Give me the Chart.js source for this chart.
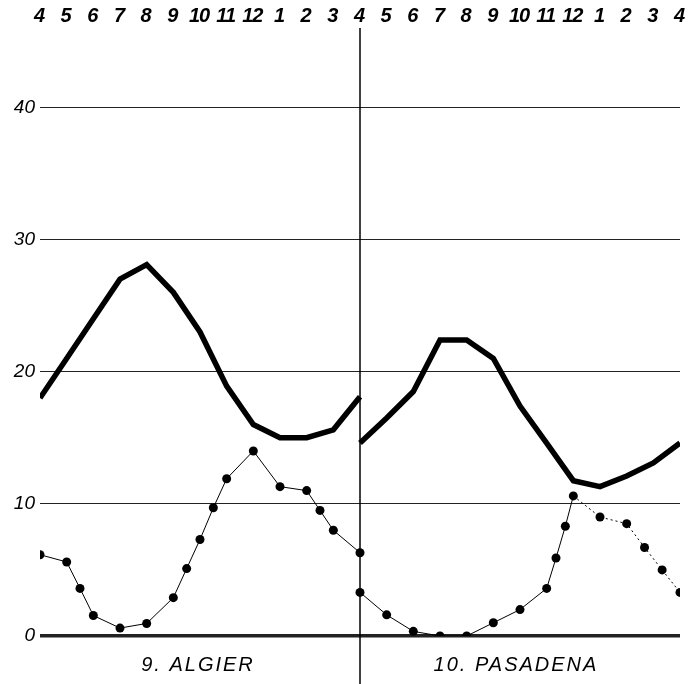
<!DOCTYPE html>
<html>
<head>
<meta charset="utf-8">
<script src="https://cdn.jsdelivr.net/npm/chart.js@4"></script>
<style>
  html, body { margin: 0; padding: 0; background: #fff; }
  #wrap { width: 691px; height: 684px; }
</style>
</head>
<body>
<div id="wrap"><canvas id="chart" width="691" height="684"></canvas></div>
<script>
// month labels along the top, one panel = 12 months (4 .. 4)
const months = ['4', '5', '6', '7', '8', '9', '10', '11', '12', '1', '2', '3', '4'];
const stations = ['9. ALGIER', '10. PASADENA'];
const yTicks = [0, 10, 20, 30, 40];

// thick line, one value per month
const algierTemp = [18, 21, 24, 27, 28.1, 26, 23, 18.9, 16, 15, 15, 15.6, 18.1];
const pasadenaTemp = [14.6, 16.5, 18.5, 22.4, 22.4, 21, 17.4, 14.6, 11.75, 11.3, 12.1, 13.1, 14.6];

// dotted series (month position, value)
const algierDotsX = [0, 1, 1.5, 2, 3, 4, 5, 5.5, 6, 6.5, 7, 8, 9, 10, 10.5, 11, 12];
const algierDots = [6.15, 5.6, 3.6, 1.55, 0.6, 0.95, 2.9, 5.1, 7.3, 9.7, 11.9, 14, 11.3, 11, 9.5, 8, 6.3];
const pasadenaDotsX = [0, 1, 2, 3, 4, 5, 6, 7, 7.35, 7.7, 8, 9, 10, 10.67, 11.33, 12];
const pasadenaDots = [3.3, 1.6, 0.35, 0, 0, 1, 2, 3.6, 5.9, 8.3, 10.6, 9, 8.5, 6.7, 5, 3.3];

const topLabels = months.concat(months.slice(1));
const fontFam = '"Liberation Sans", "DejaVu Sans", sans-serif';

function pts(xs, ys, offset) {
    return ys.map((v, i) => ({ x: xs[i] + offset, y: v }));
}
const monthIdx = months.map((m, i) => i);

const dotStyle = {
    borderColor: '#000',
    backgroundColor: '#000',
    borderWidth: 1,
    pointRadius: 4.5,
    pointHoverRadius: 4.5,
    pointBorderWidth: 0,
    tension: 0
};
const tempStyle = {
    borderColor: '#000',
    borderWidth: 5.5,
    pointRadius: 0,
    borderJoinStyle: 'miter',
    tension: 0
};

const panelDecor = {
    id: 'panelDecor',
    afterDraw(chart) {
        const ctx = chart.ctx;
        const x = chart.scales.x;
        ctx.save();
        // month labels across the top, placed on the x scale
        ctx.fillStyle = '#000';
        ctx.font = 'italic bold 20px ' + fontFam;
        ctx.textAlign = 'center';
        ctx.textBaseline = 'middle';
        ctx.letterSpacing = '-1px';
        topLabels.forEach((l, i) => {
            ctx.fillText(l, x.getPixelForValue(i) - 1, 16);
        });
        // divider between the two stations
        ctx.strokeStyle = '#000';
        ctx.lineWidth = 1.5;
        const xm = x.getPixelForValue(12);
        ctx.beginPath();
        ctx.moveTo(xm, 28);
        ctx.lineTo(xm, 684);
        ctx.stroke();
        // station names below the zero line
        ctx.font = 'italic 20px ' + fontFam;
        ctx.letterSpacing = '2px';
        ctx.fillText(stations[0], x.getPixelForValue(6) - 2, 665);
        ctx.fillText(stations[1], x.getPixelForValue(18) - 4, 665);
        ctx.restore();
    }
};

new Chart(document.getElementById('chart'), {
    type: 'line',
    data: {
        datasets: [
            Object.assign({ data: pts(monthIdx, algierTemp, 0) }, tempStyle),
            Object.assign({ data: pts(monthIdx, pasadenaTemp, 12) }, tempStyle),
            Object.assign({ data: pts(algierDotsX, algierDots, 0) }, dotStyle),
            Object.assign({
                data: pts(pasadenaDotsX, pasadenaDots, 12),
                segment: { borderDash: c => c.p0.parsed.x >= 20 ? [2, 3] : undefined }
            }, dotStyle)
        ]
    },
    options: {
        responsive: false,
        animation: false,
        layout: { padding: { top: 28, right: 11, bottom: 48, left: 0 } },
        plugins: {
            legend: { display: false },
            tooltip: { enabled: false }
        },
        scales: {
            x: {
                type: 'linear',
                min: 0,
                max: 24,
                display: false
            },
            y: {
                min: 0,
                max: 46,
                afterFit: s => { s.width = 40; },
                afterBuildTicks: s => { s.ticks = yTicks.map(v => ({ value: v })); },
                ticks: {
                    padding: 5,
                    color: '#000',
                    font: { family: fontFam, size: 19, style: 'italic' }
                },
                grid: {
                    drawTicks: false,
                    color: '#222',
                    lineWidth: c => c.tick && c.tick.value === 0 ? 3.5 : 1
                },
                border: { display: false }
            }
        }
    },
    plugins: [panelDecor]
});
</script>
</body>
</html>
